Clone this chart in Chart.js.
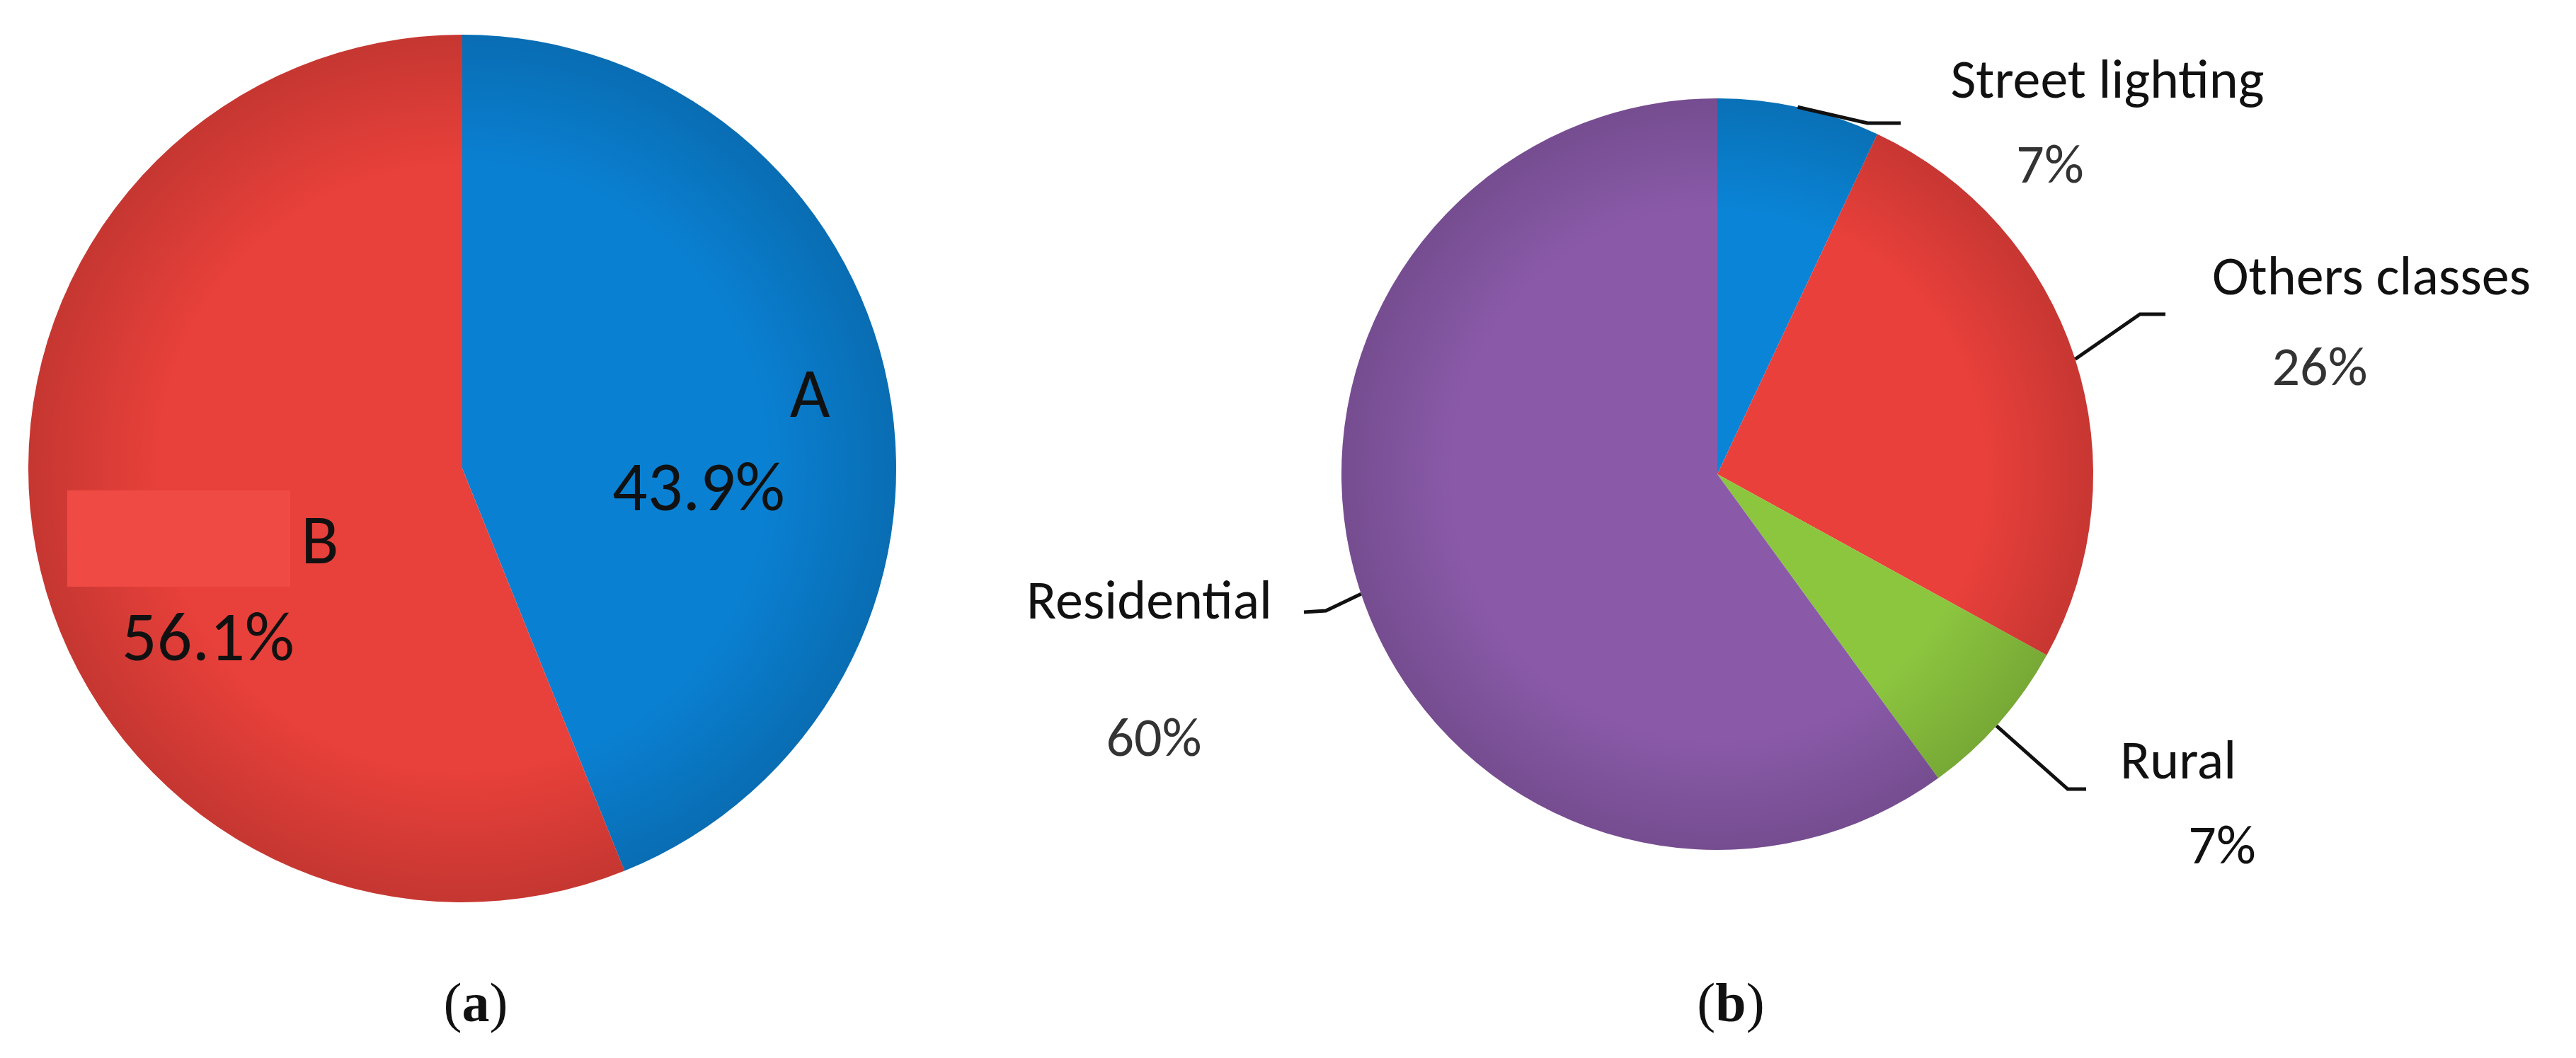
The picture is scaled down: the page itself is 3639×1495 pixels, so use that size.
<!DOCTYPE html>
<html><head><meta charset="utf-8">
<script src="https://cdn.jsdelivr.net/npm/chart.js@4"></script>
<style>
body{margin:0;width:3639px;height:1495px;background:#fff;position:relative;overflow:hidden;font-family:Calibri,Lato,"Open Sans",sans-serif}
.t{position:absolute;transform:translate(-50%,-50%);white-space:nowrap;color:#111;line-height:1}
.p{color:#333}
.c{position:absolute}
</style></head><body>
<canvas id="ca" class="c" style="left:33px;top:42px;width:1240px;height:1240px" width="1240" height="1240"></canvas>
<canvas id="cb" class="c" style="left:1776px;top:20px;width:1300px;height:1300px" width="1300" height="1300"></canvas>
<div class="c" style="left:95px;top:693px;width:315px;height:136px;background:#f04a45"></div>
<div class="t" style="left:1144px;top:556px;font-size:98px">A</div>
<div class="t" style="left:987px;top:688px;font-size:98px">43.9%</div>
<div class="t" style="left:452px;top:763px;font-size:98px">B</div>
<div class="t" style="left:294px;top:900px;font-size:98px">56.1%</div>
<div class="t" style="left:2977px;top:112px;font-size:78px">Street lighting</div>
<div class="t p" style="left:2896px;top:232px;font-size:78px">7%</div>
<div class="t" style="left:3350px;top:390px;font-size:78px">Others classes</div>
<div class="t p" style="left:3277px;top:518px;font-size:78px">26%</div>
<div class="t" style="left:3077px;top:1074px;font-size:78px">Rural</div>
<div class="t" style="left:3139px;top:1194px;font-size:78px">7%</div>
<div class="t" style="left:1797px;top:848px;font-size:78px;transform:translate(-100%,-50%)">Residential</div>
<div class="t p" style="left:1630px;top:1042px;font-size:78px">60%</div>
<div class="t" style="left:672px;top:1417px;font-size:78px;font-family:'Liberation Serif',serif">(<b>a</b>)</div>
<div class="t" style="left:2445px;top:1417px;font-size:78px;font-family:'Liberation Serif',serif">(<b>b</b>)</div>
<script>
const labelsA=["A","B"];
const valuesA=[43.9,56.1];
const colorsA=["#0a80d2","#e8403a"];
const labelsB=["Street lighting","Others classes","Rural","Residential"];
const valuesB=[7,26,7,60];
const colorsB=["#0a84d6","#ea403b","#8cc63f","#8a5aa9"];
// leader lines (canvas b px): start direction point, elbow, end
const leaders=[
 [[764,129],[862,154],[909,154]],
 [[1160,486],[1247,424],[1283,424]],
 [[1047,1008],[1145,1095],[1171,1095]],
 [[124,827],[97,843],[66,845]]];
const shade={id:'shade',afterDatasetsDraw(ch){
  const ctx=ch.ctx;const a=ch.getDatasetMeta(0).data[0];
  const g=ctx.createRadialGradient(a.x,a.y,a.outerRadius*0.7,a.x,a.y,a.outerRadius);
  g.addColorStop(0,'rgba(0,0,0,0)');g.addColorStop(1,'rgba(0,0,0,0.15)');
  ctx.save();ctx.beginPath();ctx.arc(a.x,a.y,a.outerRadius,0,Math.PI*2);ctx.fillStyle=g;ctx.fill();ctx.restore();
}};
const lead={id:'lead',afterDraw(ch){
  const ctx=ch.ctx;const a=ch.getDatasetMeta(0).data[0];
  ctx.save();ctx.strokeStyle='#111';ctx.lineWidth=5;
  leaders.forEach(L=>{
    const ang=Math.atan2(L[0][1]-a.y,L[0][0]-a.x);
    ctx.beginPath();ctx.moveTo(a.x+Math.cos(ang)*a.outerRadius,a.y+Math.sin(ang)*a.outerRadius);
    ctx.lineTo(L[1][0],L[1][1]);ctx.lineTo(L[2][0],L[2][1]);ctx.stroke();
  });ctx.restore();
}};
const base={responsive:false,animation:false,plugins:{legend:{display:false},tooltip:{enabled:false}},layout:{padding:0}};
new Chart(document.getElementById('ca'),{type:'pie',data:{labels:labelsA,datasets:[{data:valuesA,backgroundColor:colorsA,borderWidth:0}]},
 options:{...base,radius:613},plugins:[shade]});
new Chart(document.getElementById('cb'),{type:'pie',data:{labels:labelsB,datasets:[{data:valuesB,backgroundColor:colorsB,borderWidth:0}]},
 options:{...base,radius:531},plugins:[shade,lead]});
</script></body></html>
